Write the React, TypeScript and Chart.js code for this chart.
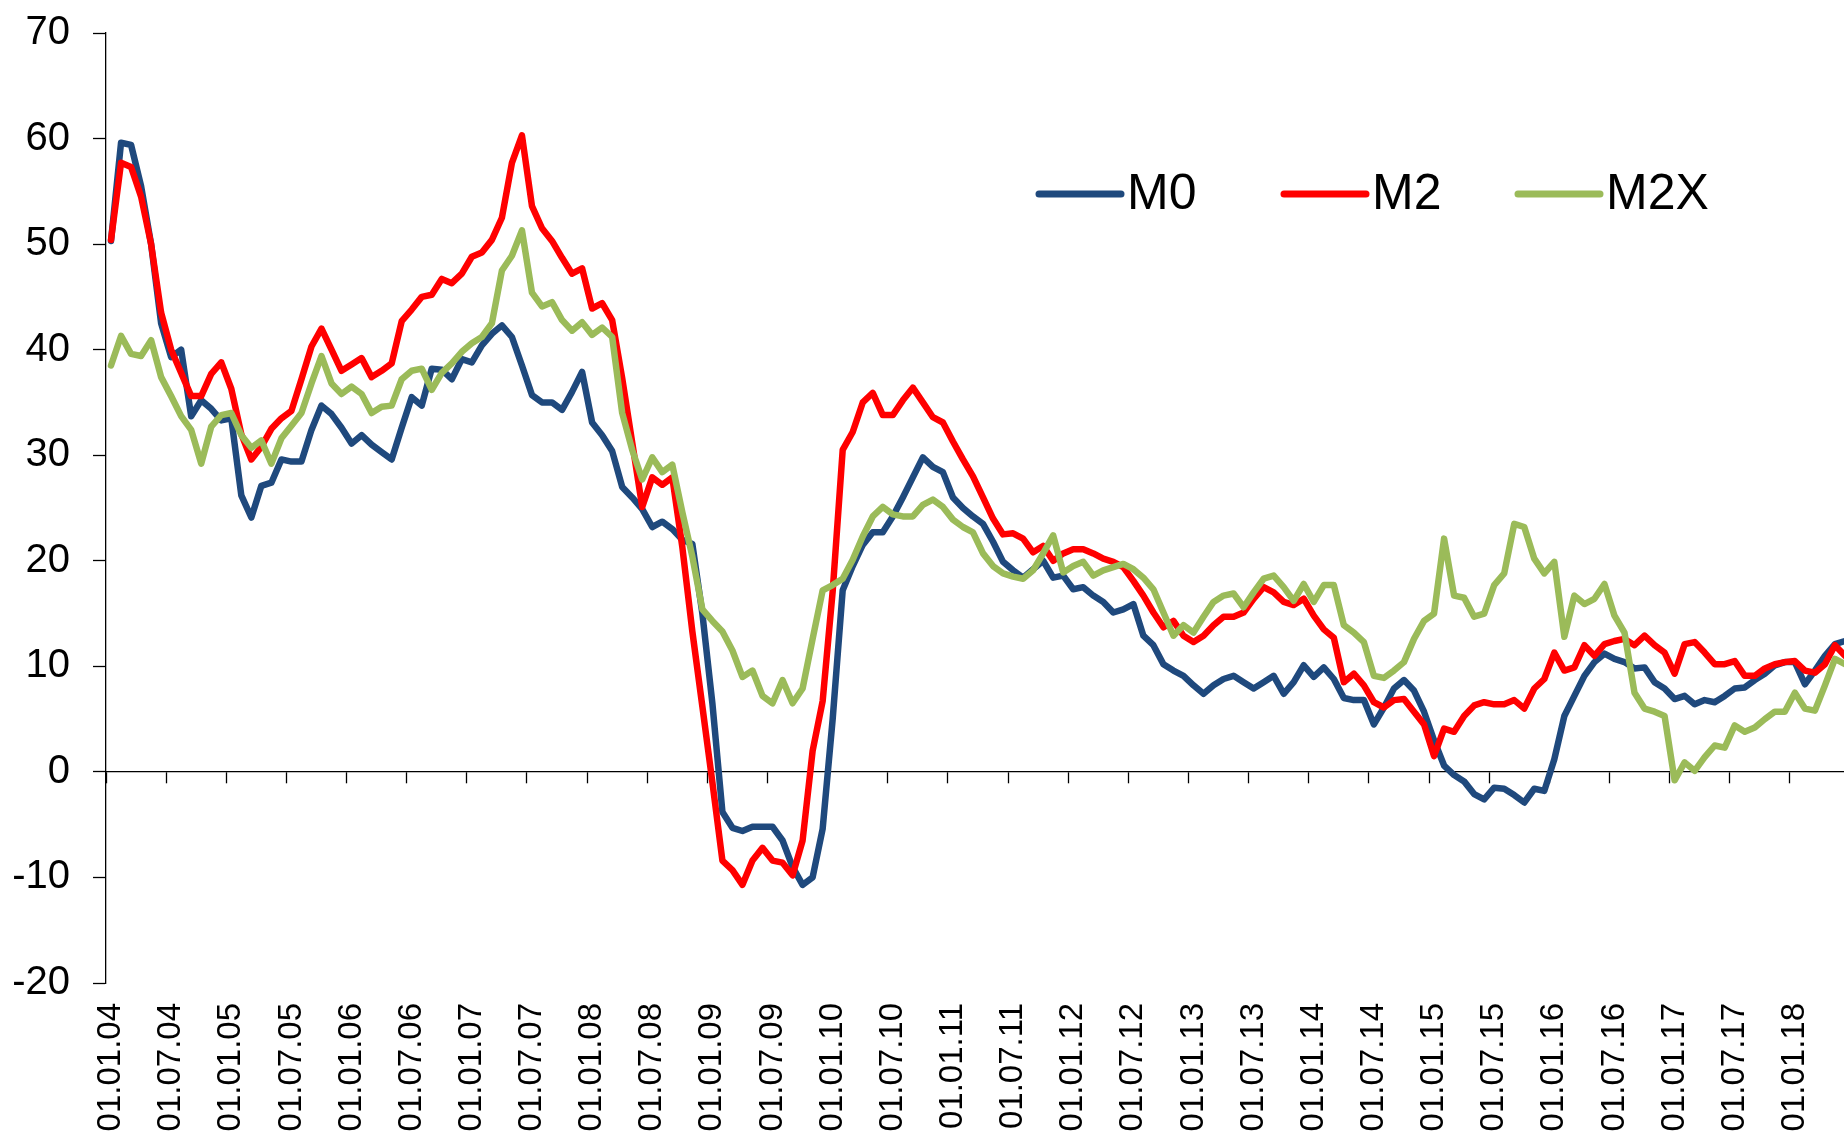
import React, { useEffect, useRef } from 'react';
import { Chart, registerables } from 'chart.js';

Chart.register(...registerables);

const FONT = 'Arial, "Liberation Sans", sans-serif';

const YEAR_CODES = ['04', '05', '06', '07', '08', '09', '10', '11', '12', '13', '14', '15', '16', '17', '18'];
const MONTH_CODES = ['01', '02', '03', '04', '05', '06', '07', '08', '09', '10', '11', '12'];

// Monthly growth rates, % y/y (Jan 2004 .. Jun 2018)
const M0 = [
  50.3, 59.6, 59.4, 55.5, 50.0, 42.5, 39.3, 40.0, 33.7, 35.2, 34.4, 33.3,
  33.5, 26.2, 24.1, 27.1, 27.4, 29.6, 29.4, 29.4, 32.4, 34.7, 33.9, 32.6,
  31.1, 31.9, 31.0, 30.3, 29.6, 32.6, 35.5, 34.7, 38.2, 38.1, 37.2, 39.1,
  38.8, 40.4, 41.5, 42.3, 41.2, 38.5, 35.7, 35.0, 35.0, 34.3, 36.0, 37.9,
  33.1, 31.9, 30.4, 27.0, 26.0, 24.9, 23.2, 23.7, 23.0, 22.0, 21.6, 15.0,
  6.5, -3.8, -5.3, -5.6, -5.2, -5.2, -5.2, -6.5, -9.0, -10.7, -10.0, -5.4,
  5.0, 17.2, 19.5, 21.5, 22.7, 22.7, 24.2, 26.0, 27.9, 29.8, 28.9, 28.4,
  26.0, 25.0, 24.2, 23.5, 21.8, 19.9, 19.1, 18.4, 19.2, 20.0, 18.4, 18.6,
  17.3, 17.5, 16.7, 16.1, 15.1, 15.4, 15.9, 12.9, 12.0, 10.2, 9.6, 9.1,
  8.2, 7.4, 8.2, 8.8, 9.1, 8.5, 7.9, 8.5, 9.1, 7.4, 8.5, 10.1,
  9.0, 9.9, 8.8, 7.0, 6.8, 6.8, 4.5, 6.1, 7.9, 8.7, 7.7, 5.7,
  3.0, 0.6, -0.3, -0.9, -2.1, -2.6, -1.5, -1.6, -2.2, -2.9, -1.6, -1.8,
  1.2, 5.3, 7.2, 9.1, 10.4, 11.2, 10.7, 10.4, 9.8, 9.9, 8.5, 7.9,
  6.9, 7.2, 6.4, 6.8, 6.6, 7.2, 7.9, 8.0, 8.7, 9.3, 10.1, 10.4,
  10.4, 8.3, 9.6, 11.0, 12.1, 12.4,
];

const M2 = [
  50.4, 57.7, 57.3, 54.5, 50.0, 43.5, 40.0, 37.8, 35.6, 35.6, 37.7, 38.8,
  36.3, 32.0, 29.6, 30.8, 32.5, 33.5, 34.2, 37.2, 40.3, 42.0, 40.0, 38.0,
  38.6, 39.2, 37.4, 38.0, 38.7, 42.7, 43.8, 45.0, 45.2, 46.7, 46.3, 47.2,
  48.8, 49.2, 50.4, 52.5, 57.7, 60.3, 53.6, 51.5, 50.3, 48.7, 47.2, 47.7,
  43.9, 44.4, 42.8, 37.3, 31.2, 25.1, 27.9, 27.2, 27.9, 21.3, 13.3, 6.2,
  -1.0, -8.4, -9.3, -10.7, -8.4, -7.2, -8.4, -8.6, -9.8, -6.5, 2.0, 6.7,
  17.1, 30.5, 32.2, 35.0, 35.9, 33.8, 33.8, 35.2, 36.4, 35.0, 33.6, 33.1,
  31.3, 29.6, 28.0, 26.0, 24.0, 22.5, 22.6, 22.1, 20.8, 21.4, 20.0, 20.7,
  21.1, 21.1, 20.7, 20.2, 19.9, 19.4, 18.1, 16.7, 15.1, 13.7, 14.3, 12.9,
  12.3, 12.9, 13.9, 14.7, 14.7, 15.1, 16.4, 17.5, 17.0, 16.1, 15.8, 16.4,
  14.8, 13.5, 12.7, 8.5, 9.3, 8.2, 6.6, 6.1, 6.8, 6.9, 5.7, 4.5,
  1.5, 4.1, 3.8, 5.3, 6.3, 6.6, 6.4, 6.4, 6.8, 6.0, 7.9, 8.8,
  11.3, 9.6, 9.9, 12.0, 11.0, 12.1, 12.4, 12.6, 12.0, 12.9, 12.0, 11.3,
  9.3, 12.1, 12.3, 11.3, 10.2, 10.2, 10.5, 9.1, 9.1, 9.8, 10.2, 10.4,
  10.5, 9.6, 9.4, 10.2, 12.0, 11.0,
];

const M2X = [
  38.5, 41.3, 39.6, 39.4, 40.9, 37.4, 35.6, 33.7, 32.4, 29.2, 32.7, 33.8,
  34.0, 31.9, 30.7, 31.4, 29.2, 31.6, 32.8, 34.0, 36.8, 39.4, 36.8, 35.8,
  36.5, 35.8, 34.0, 34.6, 34.7, 37.2, 38.0, 38.2, 36.2, 37.8, 38.7, 39.8,
  40.6, 41.2, 42.5, 47.5, 48.9, 51.3, 45.4, 44.1, 44.5, 42.8, 41.8, 42.6,
  41.4, 42.1, 41.2, 34.0, 30.5, 27.7, 29.8, 28.4, 29.1, 24.6, 20.4, 15.4,
  14.3, 13.3, 11.5, 9.0, 9.6, 7.2, 6.5, 8.7, 6.5, 7.9, 12.6, 17.2,
  17.7, 18.3, 20.1, 22.3, 24.2, 25.1, 24.4, 24.2, 24.2, 25.3, 25.8, 25.1,
  23.9, 23.2, 22.7, 20.7, 19.5, 18.8, 18.5, 18.3, 19.1, 20.7, 22.4, 18.9,
  19.5, 19.9, 18.6, 19.1, 19.4, 19.7, 19.2, 18.4, 17.3, 15.1, 12.9, 13.9,
  13.2, 14.7, 16.1, 16.7, 16.9, 15.6, 17.0, 18.3, 18.6, 17.5, 16.2, 17.8,
  16.1, 17.7, 17.7, 13.9, 13.2, 12.3, 9.1, 8.9, 9.6, 10.4, 12.6, 14.3,
  15.0, 22.1, 16.7, 16.5, 14.7, 15.0, 17.7, 18.8, 23.5, 23.2, 20.2, 18.8,
  19.9, 12.8, 16.7, 15.9, 16.4, 17.8, 14.8, 13.2, 7.5, 6.0, 5.7, 5.3,
  -0.8, 0.9, 0.1, 1.4, 2.5, 2.3, 4.4, 3.8, 4.2, 5.0, 5.7, 5.7,
  7.5, 6.0, 5.8, 8.2, 10.7, 10.2,
];

const SERIES_NAMES = ['M0', 'M2', 'M2X'];
const SERIES_VALUES = [M0, M2, M2X];
const SERIES_COLORS = ['#1F497D', '#FF0000', '#9BBB59'];

const X_TICK_LABELS = [
  '01.01.04', '01.07.04', '01.01.05', '01.07.05', '01.01.06', '01.07.06',
  '01.01.07', '01.07.07', '01.01.08', '01.07.08', '01.01.09', '01.07.09',
  '01.01.10', '01.07.10', '01.01.11', '01.07.11', '01.01.12', '01.07.12',
  '01.01.13', '01.07.13', '01.01.14', '01.07.14', '01.01.15', '01.07.15',
  '01.01.16', '01.07.16', '01.01.17', '01.07.17', '01.01.18',
];
const Y_TICKS = [-20, -10, 0, 10, 20, 30, 40, 50, 60, 70];

const CATEGORIES: string[] = YEAR_CODES
  .flatMap((y) => MONTH_CODES.map((m) => `01.${m}.${y}`))
  .slice(0, M0.length);
const X_TICK_SET = new Set(X_TICK_LABELS);

const insideLegend = {
  id: 'insideLegend',
  afterDraw(chart: any, _args: any, opts: any) {
    const ctx = chart.ctx;
    ctx.save();
    ctx.font = `${opts.fontSize}px ${FONT}`;
    ctx.textBaseline = 'middle';
    ctx.textAlign = 'left';
    chart.data.datasets.forEach((ds: any, i: number) => {
      const x = opts.xs[i];
      const y = opts.y;
      ctx.strokeStyle = ds.borderColor;
      ctx.lineWidth = opts.lineWidth;
      ctx.lineCap = 'round';
      ctx.beginPath();
      ctx.moveTo(x, y);
      ctx.lineTo(x + opts.lineLength, y);
      ctx.stroke();
      ctx.fillStyle = '#000';
      ctx.fillText(ds.label, x + opts.lineLength + opts.gap, y + 1);
    });
    ctx.restore();
  },
};

export default function App() {
  const canvasRef = useRef<HTMLCanvasElement | null>(null);

  useEffect(() => {
    const canvas = canvasRef.current;
    if (!canvas) return;
    const chart = new Chart(canvas, {
      type: 'line',
      data: {
        labels: CATEGORIES,
        datasets: SERIES_NAMES.map((name, i) => ({
          label: name,
          data: SERIES_VALUES[i],
          borderColor: SERIES_COLORS[i],
          backgroundColor: SERIES_COLORS[i],
          borderWidth: 6.5,
          borderJoinStyle: 'round',
          borderCapStyle: 'round',
          pointRadius: 0,
          pointHoverRadius: 0,
          tension: 0,
          fill: false,
          xAxisID: 'x',
          yAxisID: 'y',
          order: 3 - i,
        })),
      },
      options: {
        responsive: false,
        animation: false,
        devicePixelRatio: 1,
        events: [],
        layout: { padding: { top: 33, left: 0, right: 0, bottom: 0 } },
        plugins: {
          legend: { display: false },
          tooltip: { enabled: false },
          insideLegend: { xs: [1039, 1284, 1518], y: 194, lineLength: 82, gap: 6, lineWidth: 7, fontSize: 50 },
        },
        scales: {
          x: {
            type: 'category',
            position: 'bottom',
            offset: true,
            grid: { display: false, drawTicks: false, offset: true },
            border: { display: false },
            ticks: {
              autoSkip: false,
              minRotation: 90,
              maxRotation: 90,
              padding: 20,
              color: '#000',
              font: { size: 33, family: FONT },
              callback: (_v: any, index: number) =>
                X_TICK_SET.has(CATEGORIES[index]) ? CATEGORIES[index] : '',
            },
            afterFit: (s: any) => {
              s.height = 156;
              s.paddingLeft = 0;
              s.paddingRight = 0;
            },
          },
          x0: {
            type: 'category',
            axis: 'x',
            position: { y: 0 },
            offset: true,
            grid: {
              drawOnChartArea: false,
              drawTicks: true,
              tickLength: 11,
              offset: true,
              color: '#000',
              tickWidth: 1.3,
              tickColor: (c: any) =>
                X_TICK_SET.has(CATEGORIES[c.index]) ? '#000' : 'rgba(0,0,0,0)',
            },
            border: { display: true, color: '#000', width: 1.3 },
            ticks: { display: false, autoSkip: false },
            afterFit: (s: any) => {
              s.paddingLeft = 0;
              s.paddingRight = 0;
              s.paddingTop = 0;
              s.paddingBottom = 0;
            },
          },
          y: {
            type: 'linear',
            position: 'left',
            min: -20,
            max: 70,
            afterBuildTicks: (s: any) => {
              s.ticks = Y_TICKS.map((v) => ({ value: v }));
            },
            grid: { drawOnChartArea: false, drawTicks: true, tickLength: 13, color: '#000', tickWidth: 1.3 },
            border: { display: true, color: '#000', width: 1.3 },
            ticks: { padding: 23, color: '#000', font: { size: 40, family: FONT } },
            afterFit: (s: any) => {
              s.width = 106;
              s.paddingTop = 0;
              s.paddingBottom = 0;
            },
          },
        },
      } as any,
      plugins: [insideLegend],
    } as any);
    return () => chart.destroy();
  }, []);

  return (
    <div
      style={{
        position: 'absolute',
        left: 0,
        top: 0,
        width: 1844,
        height: 1139,
        overflow: 'hidden',
        background: '#fff',
      }}
    >
      <canvas ref={canvasRef} width={1850} height={1139} style={{ display: 'block' }} />
    </div>
  );
}
